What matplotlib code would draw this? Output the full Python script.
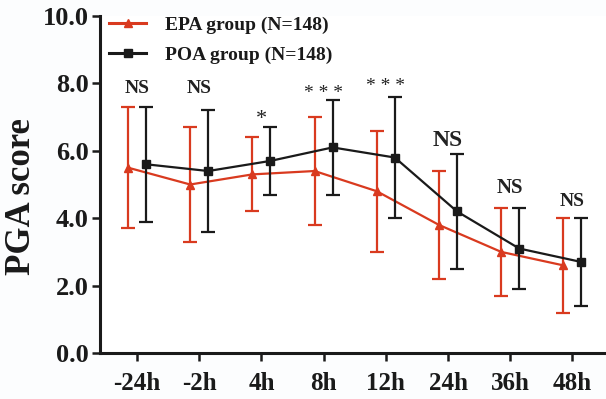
import matplotlib
matplotlib.use('Agg')
import matplotlib.pyplot as plt
from matplotlib.lines import Line2D
import numpy as np

plt.rcParams['font.family'] = ['Liberation Serif', 'DejaVu Serif']
plt.rcParams['font.weight'] = 'bold'

timepoints = ['-24h', '-2h', '4h', '8h', '12h', '24h', '36h', '48h']
epa_mean = [5.5, 5.0, 5.3, 5.4, 4.8, 3.8, 3.0, 2.6]
epa_sd = [1.8, 1.7, 1.1, 1.6, 1.8, 1.6, 1.3, 1.4]
poa_mean = [5.6, 5.4, 5.7, 6.1, 5.8, 4.2, 3.1, 2.7]
poa_sd = [1.7, 1.8, 1.0, 1.4, 1.8, 1.7, 1.2, 1.3]
sig_labels = ['NS', 'NS', '*', '* * *', '* * *', 'NS', 'NS', 'NS']
sig_y = [7.6, 7.6, 6.65, 7.45, 7.65, 6.0, 4.6, 4.23]
sig_size = [14, 14, 16, 14, 14, 17, 15, 14]

red = '#d93a1f'
dark = '#1a1a1a'
x = np.arange(len(timepoints))
off = 0.145

fig = plt.figure(figsize=(6.06, 3.99), dpi=100)
ax = fig.add_axes([100 / 606, 46 / 399, 506 / 606, 337 / 399])

ax.errorbar(x - off, epa_mean, yerr=epa_sd, color=red, marker='^', markersize=6,
            lw=1.6, elinewidth=1.6, capsize=5, capthick=1.6, zorder=2)
ax.errorbar(x + off, poa_mean, yerr=poa_sd, color=dark, marker='s', markersize=6,
            lw=1.6, elinewidth=1.6, capsize=5, capthick=1.6, zorder=3)

for xi, lab, yy, fs in zip(x, sig_labels, sig_y, sig_size):
    ax.text(xi, yy, lab, ha='center', va='bottom', fontsize=fs,
            fontweight='normal' if '*' in lab else 'bold', color='#222222')

ax.set_xlim(-0.595, 7.54)
ax.set_ylim(0, 10)
ax.set_yticks(np.arange(0, 10.1, 2))
ax.set_yticklabels([f'{v:.1f}' for v in np.arange(0, 10.1, 2)])
ax.set_xticks(x)
ax.set_xticklabels(timepoints)
ax.tick_params(width=1.8, length=6, color=dark, labelcolor=dark)
ax.tick_params(axis='y', labelsize=19, pad=2)
ax.tick_params(axis='x', labelsize=18, pad=8)
for lab in ax.get_xticklabels() + ax.get_yticklabels():
    lab.set_fontweight('bold')
ax.set_ylabel('PGA score', fontsize=25, fontweight='bold', color=dark)
ax.yaxis.set_label_coords(-0.122, 0.463)

for s in ['top', 'right']:
    ax.spines[s].set_visible(False)
for s in ['left', 'bottom']:
    ax.spines[s].set_linewidth(2.2)
    ax.spines[s].set_color(dark)

handles = [Line2D([], [], color=red, marker='^', markersize=6, lw=2.2),
           Line2D([], [], color=dark, marker='s', markersize=6, lw=2.2)]
leg = ax.legend(handles, ['EPA group (N=148)', 'POA group (N=148)'],
                loc='upper left', bbox_to_anchor=(0.018, 0.998), frameon=False,
                prop={'size': 14, 'weight': 'bold'}, handlelength=1.9,
                handletextpad=1.0, labelspacing=0.6, borderpad=0, borderaxespad=0)
for t in leg.get_texts():
    t.set_color(dark)

fig.savefig('out.png', dpi=100, facecolor='#fcfdfe')
